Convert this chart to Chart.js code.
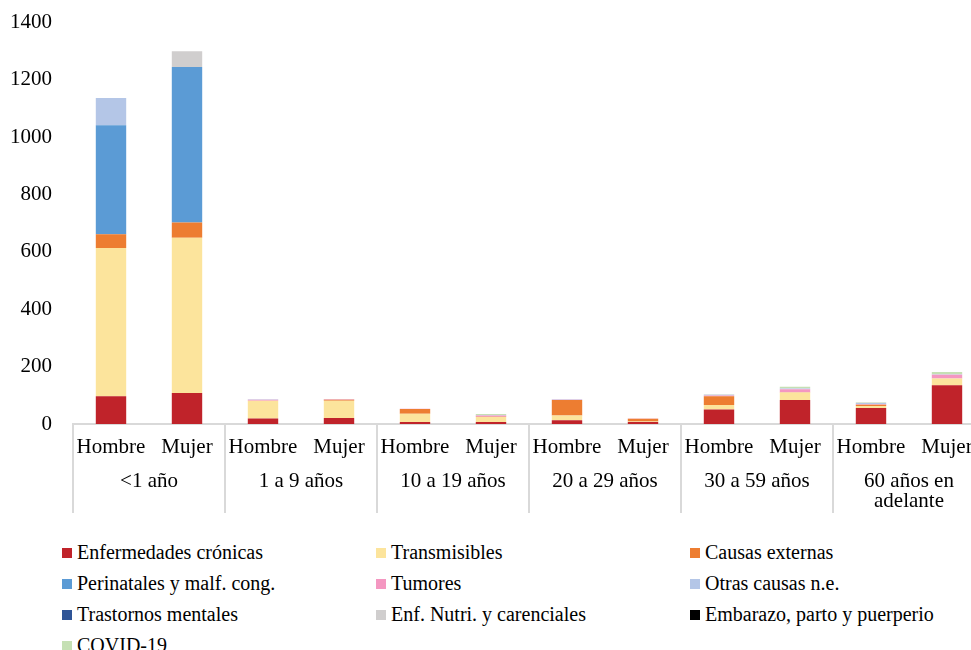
<!DOCTYPE html>
<html>
<head>
<meta charset="utf-8">
<script src="https://cdn.jsdelivr.net/npm/chart.js@4"></script>
<style>
  html, body { margin: 0; padding: 0; background: #fff; overflow: hidden; width: 971px; height: 650px; }
  #wrap { position: absolute; left: 0; top: -11px; width: 990px; height: 536px; }
  #legend { position: absolute; left: 62px; top: 541px; width: 900px; font-family: "Liberation Serif", serif; font-size: 20px; color: #000; }
  .item { position: absolute; white-space: nowrap; display: flex; align-items: center; }
  .box { width: 10px; height: 10px; margin-right: 5px; }
</style>
</head>
<body>
<div id="wrap"><canvas id="chart" width="990" height="536"></canvas></div>
<div id="legend"></div>
<script>
var sexLabels = ["Hombre", "Mujer", "Hombre", "Mujer", "Hombre", "Mujer", "Hombre", "Mujer", "Hombre", "Mujer", "Hombre", "Mujer"];
var groupLabels = ["<1 año", "1 a 9 años", "10 a 19 años", "20 a 29 años", "30 a 59 años", ["60 años en", "adelante"]];

var cronicas      = [97, 108, 19, 21, 7, 7, 13, 7, 51, 84, 56, 135];
var transmisibles = [517, 542, 62, 60, 29, 17, 17, 2, 15, 26, 7, 24];
var externas      = [48, 53, 0, 4, 16, 1, 54, 9, 31, 1, 4, 0];
var perinatales   = [380, 542, 0, 0, 0, 0, 0, 0, 0, 0, 0, 0];
var tumores       = [0, 0, 4, 1, 1, 5, 1, 1, 2, 10, 2, 13];
var otras         = [95, 0, 1, 1, 0, 1, 1, 0, 3, 3, 4, 1];
var mentales      = [0, 0, 0, 0, 0, 0, 0, 0, 0, 0, 0, 0];
var nutri         = [0, 55, 0, 0, 0, 0, 0, 0, 1, 1, 1, 1];
var embarazo      = [0, 0, 0, 0, 0, 0, 0, 0, 0, 0, 0, 0];
var covid         = [0, 0, 0, 0, 0, 4, 0, 0, 1, 5, 2, 7];

var seriesNames = ["Enfermedades crónicas", "Transmisibles", "Causas externas", "Perinatales y malf. cong.", "Tumores",
    "Otras causas n.e.", "Trastornos mentales", "Enf. Nutri. y carenciales", "Embarazo, parto y puerperio", "COVID-19"];
var seriesData = [cronicas, transmisibles, externas, perinatales, tumores, otras, mentales, nutri, embarazo, covid];
var seriesColors = ["#C0232A", "#FCE49C", "#ED7D31", "#5B9BD5", "#F497C1", "#B4C6E7", "#2F5597", "#D0CECE", "#000000", "#C5E0B4"];

var serif = "'Liberation Serif', serif";

var datasets = seriesNames.map(function(name, i) {
    return {
        label: name,
        data: seriesData[i],
        backgroundColor: seriesColors[i],
        borderWidth: 0,
        barPercentage: 0.4,
        categoryPercentage: 1.0
    };
});

// vertical separators between the age groups, below the axis
var groupLines = {
    id: "groupLines",
    afterDraw: function(chart) {
        var x = chart.scales.x;
        var ctx = chart.ctx;
        var step = (x.right - x.left) / sexLabels.length;
        ctx.save();
        ctx.strokeStyle = "#d9d9d9";
        ctx.lineWidth = 2;
        for (var i = 0; i <= sexLabels.length; i += 2) {
            var px = Math.round(x.left + i * step);
            ctx.beginPath();
            ctx.moveTo(px, x.top);
            ctx.lineTo(px, x.top + 89);
            ctx.stroke();
        }
        ctx.restore();
    }
};

var ctx = document.getElementById("chart").getContext("2d");
var chart = new Chart(ctx, {
    type: "bar",
    data: { labels: sexLabels, datasets: datasets },
    plugins: [groupLines],
    options: {
        responsive: false,
        animation: false,
        layout: { padding: { top: 4, right: 5, left: 0, bottom: 0 } },
        plugins: { legend: { display: false }, tooltip: { enabled: false } },
        scales: {
            x: {
                stacked: true,
                grid: { display: false },
                border: { display: true, color: "#d9d9d9", width: 2 },
                ticks: { color: "#000", font: { family: serif, size: 21 }, padding: 3, maxRotation: 0 },
                afterFit: function(s) { s.height = 34; }
            },
            x2: {
                type: "category",
                labels: groupLabels,
                position: "bottom",
                grid: { display: false },
                border: { display: false },
                ticks: { color: "#000", font: { family: serif, size: 21, lineHeight: 0.95 }, padding: 6, maxRotation: 0 },
                afterFit: function(s) { s.height = 67; }
            },
            y: {
                stacked: true,
                min: 0,
                max: 1400,
                grid: { display: false, drawTicks: false },
                border: { display: false },
                ticks: {
                    stepSize: 200, color: "#000", font: { family: serif, size: 21 }, padding: 21,
                    callback: function(v) { return String(v); }
                },
                afterFit: function(s) { s.width = 73; }
            }
        }
    }
});

// legend in three fixed columns
var legend = document.getElementById("legend");
var colX = [0, 314, 628];
seriesNames.forEach(function(name, i) {
    var item = document.createElement("div");
    item.className = "item";
    item.style.left = colX[i % 3] + "px";
    item.style.top = (Math.floor(i / 3) * 31) + "px";
    var box = document.createElement("span");
    box.className = "box";
    box.style.background = seriesColors[i];
    var txt = document.createElement("span");
    txt.textContent = name;
    item.appendChild(box);
    item.appendChild(txt);
    legend.appendChild(item);
});
</script>
</body>
</html>
